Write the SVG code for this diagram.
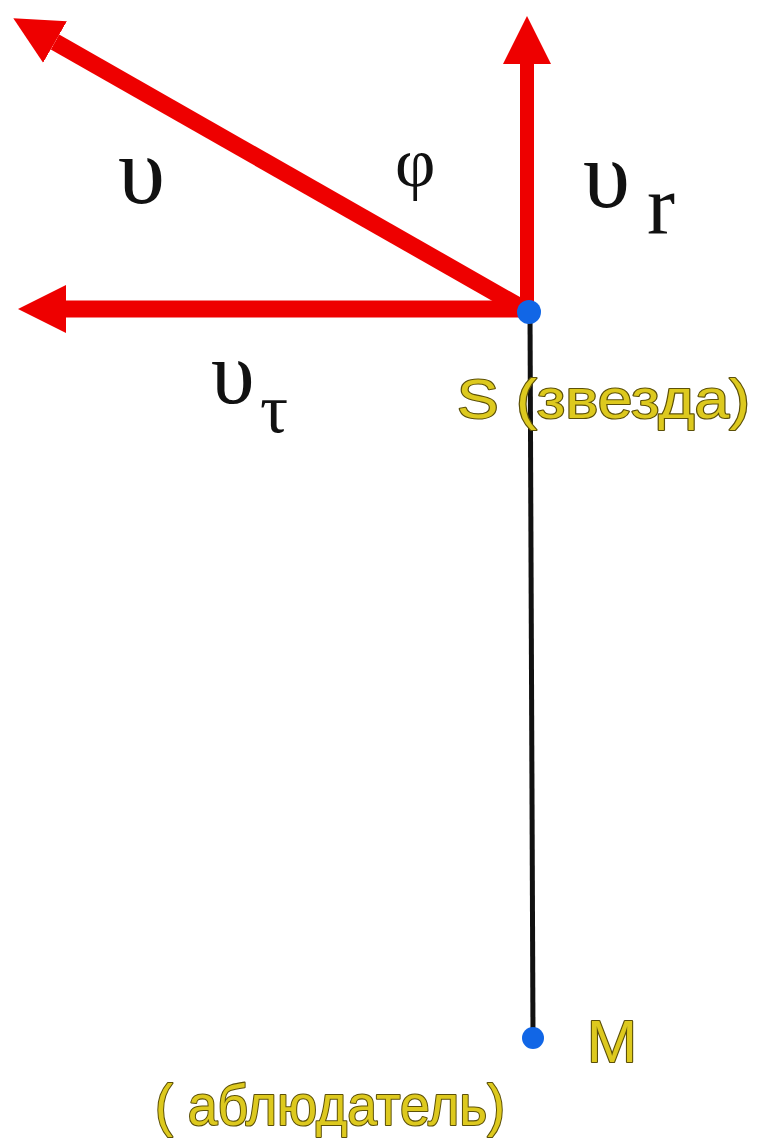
<svg xmlns="http://www.w3.org/2000/svg" width="764" height="1144" viewBox="0 0 764 1144">
<style>
.vec{stroke:#ee0000;fill:none;stroke-linecap:butt}
.sym{font-family:"Liberation Serif","Times New Roman",serif;fill:#111}
.lbl{font-family:"Liberation Sans",Arial,sans-serif;fill:#ddc91e;stroke:#5c5008;stroke-width:2.2;paint-order:stroke;stroke-linejoin:round}
.pt{fill:#1166e6}
</style>
<defs>
<marker id="ah" markerUnits="userSpaceOnUse" markerWidth="50" markerHeight="50" refX="0" refY="24" orient="auto">
<path d="M0,0 L48,24 L0,48 z" fill="#ee0000"/>
</marker>
</defs>
<rect width="764" height="1144" fill="#ffffff"/>
<g id="connectors">
<line id="line-SM" x1="530" y1="312" x2="533" y2="1038" stroke="#111" stroke-width="5"/>
<line id="v" class="vec" x1="529" y1="312" x2="55" y2="42" stroke-width="17" marker-end="url(#ah)"/>
<line id="vr" class="vec" x1="527" y1="312" x2="527" y2="64" stroke-width="14" marker-end="url(#ah)"/>
<line id="vt" class="vec" x1="529" y1="309" x2="66" y2="309" stroke-width="17" marker-end="url(#ah)"/>
</g>
<g id="labels">
<text class="sym" x="118" y="203" font-size="95">υ</text>
<text class="sym" x="395" y="186" font-size="70">φ</text>
<text class="sym" x="583" y="207" font-size="95">υ</text>
<text class="sym" x="647" y="233" font-size="84">r</text>
<text class="sym" x="211" y="403" font-size="88">υ</text>
<text class="sym" x="260" y="432" font-size="70">τ</text>
</g>
<g id="node-S">
<circle class="pt" cx="529" cy="312" r="12"/>
<text class="lbl" x="457" y="418" font-size="56" textLength="293" lengthAdjust="spacingAndGlyphs">S (звезда)</text>
</g>
<g id="node-M">
<circle class="pt" cx="533" cy="1038" r="11"/>
<text class="lbl" x="587" y="1062" font-size="60">M</text>
<text class="lbl" x="155" y="1125" font-size="58" textLength="350" lengthAdjust="spacingAndGlyphs">( аблюдатель)</text>
</g>
</svg>
